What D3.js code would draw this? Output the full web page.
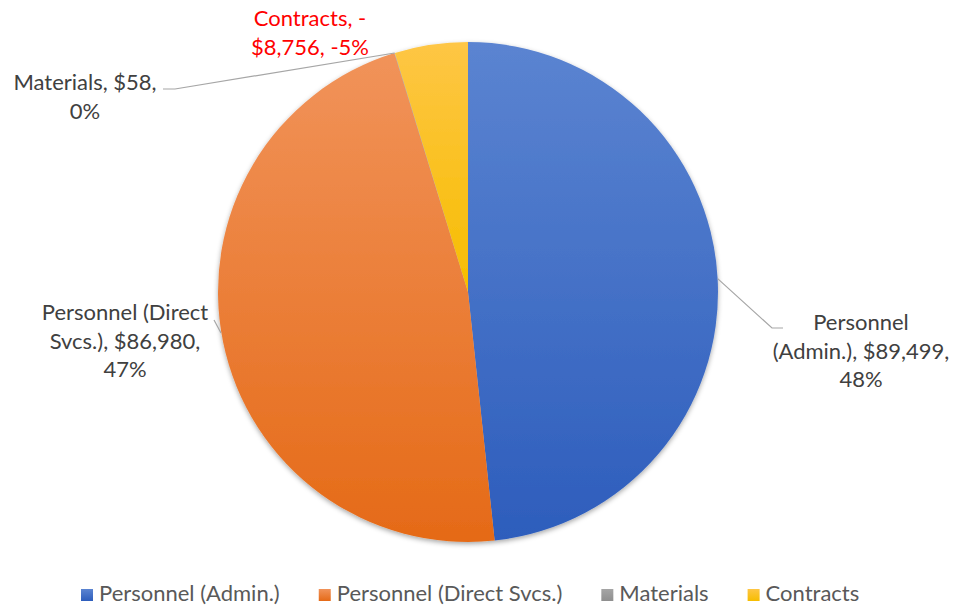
<!DOCTYPE html>
<html>
<head>
<meta charset="utf-8">
<script src="https://cdnjs.cloudflare.com/ajax/libs/d3/7.8.5/d3.min.js"></script>
<style>
  body { margin: 0; background: #fff; }
  text { font-family: Lato, "Open Sans", sans-serif; }
</style>
</head>
<body>
<div id="chart"></div>
<script>
// data
const categories = ["Personnel (Admin.)", "Personnel (Direct Svcs.)", "Materials", "Contracts"];
const amounts = [89499, 86980, 58, -8756];
const labelLines = [
  ["Personnel", "(Admin.), $89,499,", "48%"],
  ["Personnel (Direct", "Svcs.), $86,980,", "47%"],
  ["Materials, $58,", "0%"],
  ["Contracts, -", "$8,756, -5%"]
];
const colorsTop = ["#5b84d1", "#f1935a", "#a5a5a5", "#fec645"];
const colorsBottom = ["#2d5dbc", "#e56a17", "#8f8f8f", "#f6bd00"];

const width = 954, height = 608;
const cx = 468, cy = 292, radius = 250;
const fontSize = 22;

const data = categories.map((c, i) => ({ name: c, value: amounts[i], i: i }));

const svg = d3.select('#chart')
  .append('svg')
  .attr('width', width)
  .attr('height', height);

const defs = svg.append('defs');
data.forEach((d, i) => {
  const g = defs.append('linearGradient')
    .attr('id', 'grad' + i)
    .attr('x1', 0).attr('y1', 0).attr('x2', 0).attr('y2', 1);
  g.append('stop').attr('offset', '0%').attr('stop-color', colorsTop[i]);
  g.append('stop').attr('offset', '100%').attr('stop-color', colorsBottom[i]);
});
const shadow = defs.append('filter').attr('id', 'shadow')
  .attr('x', '-10%').attr('y', '-10%').attr('width', '120%').attr('height', '120%');
shadow.append('feDropShadow')
  .attr('dx', 0).attr('dy', 2).attr('stdDeviation', 2.5)
  .attr('flood-color', '#000').attr('flood-opacity', 0.35);

const pie = d3.pie().sort(null).value(d => Math.abs(d.value));
const arcs = pie(data);
const arc = d3.arc().innerRadius(0).outerRadius(radius);

const g = svg.append('g').attr('transform', `translate(${cx}, ${cy})`);

g.append('g').attr('filter', 'url(#shadow)')
  .selectAll('path')
  .data(arcs)
  .enter()
  .append('path')
  .attr('d', arc)
  .attr('fill', d => `url(#grad${d.data.i})`);

// point on the rim at slice mid angle
function rim(d) {
  const a = (d.startAngle + d.endAngle) / 2;
  return [Math.sin(a) * radius, -Math.cos(a) * radius];
}

// label layout (relative to pie centre): text centre x, first baseline y, leader points
const labelLayout = [
  { x: 393, y: 38, leader: d => [rim(d), [304, 36], [315, 36]] },
  { x: -343, y: 28, leader: d => [[-247, 41], [-254, 28]] },
  { x: -383, y: -202, leader: d => [rim(d), [-293, -203], [-305, -203]] },
  { x: -158, y: -266, leader: null }
];
const lineH = 28.5;

const labels = g.append('g');
arcs.forEach((d, i) => {
  const L = labelLayout[i];
  if (L.leader) {
    labels.append('path')
      .attr('d', d3.line()(L.leader(d)))
      .attr('fill', 'none')
      .attr('stroke', '#a6a6a6')
      .attr('stroke-width', 1.2);
  }
  const t = labels.append('text')
    .attr('text-anchor', 'middle')
    .attr('font-size', fontSize)
    .attr('fill', d.data.value < 0 ? '#ff0000' : '#404040');
  labelLines[i].forEach((s, k) => {
    t.append('tspan').attr('x', L.x).attr('y', L.y + k * lineH).text(s);
  });
});

// legend, laid out left to right
const legend = svg.append('g').attr('transform', 'translate(81, 589)');
let lx = 0;
data.forEach((d, i) => {
  const item = legend.append('g').attr('transform', `translate(${lx}, 0)`);
  item.append('rect')
    .attr('width', 12).attr('height', 12)
    .attr('fill', `url(#grad${i})`);
  const t = item.append('text')
    .attr('x', 18).attr('y', 11.5)
    .attr('font-size', fontSize)
    .attr('fill', '#595959')
    .text(d.name);
  lx += 18 + t.node().getComputedTextLength() + 39;
});
</script>
</body>
</html>
